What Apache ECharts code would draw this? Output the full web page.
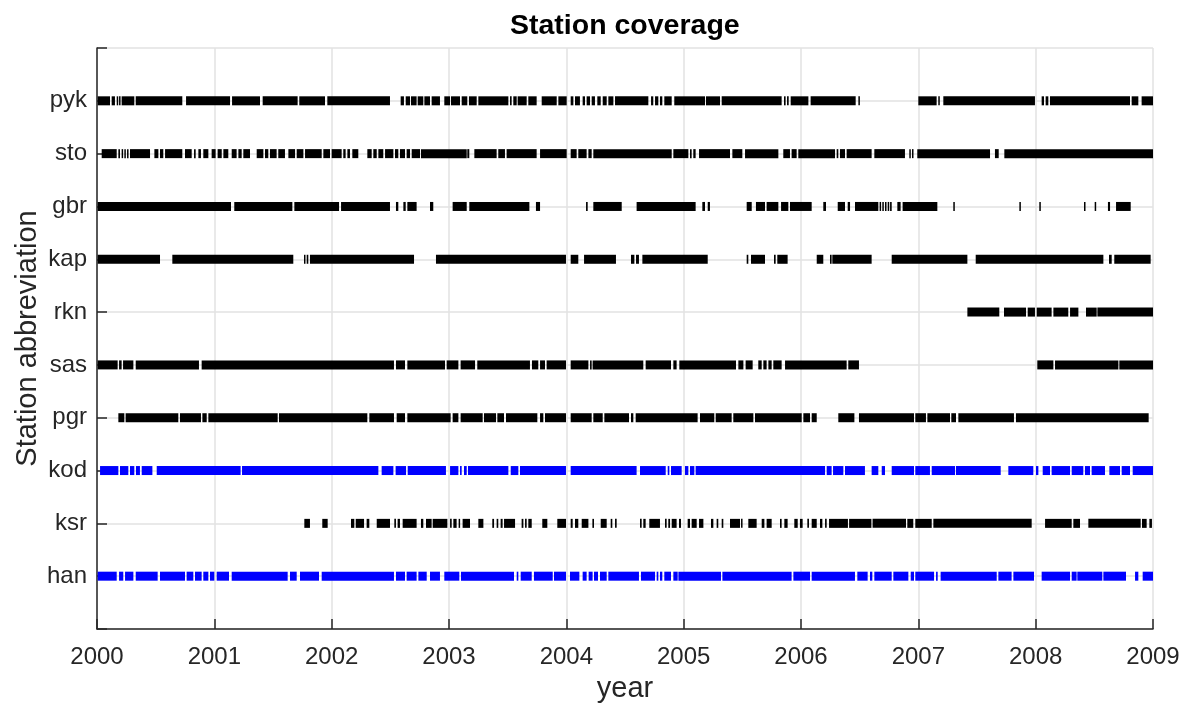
<!DOCTYPE html>
<html>
<head>
<meta charset="utf-8">
<script src="https://cdn.jsdelivr.net/npm/echarts@6/dist/echarts.min.js"></script>
<style>
html,body{margin:0;padding:0;background:#fff;}
#chart{width:1183px;height:704px;}
</style>
</head>
<body>
<div id="chart"></div>
<script>
// Station names, bottom to top
const stations = ['han','ksr','kod','pgr','sas','rkn','kap','gbr','sto','pyk'];
const blueStations = ['han','kod'];
const xTicks = [2000,2001,2002,2003,2004,2005,2006,2007,2008,2009];

// Coverage intervals [start, end] in decimal years
const pyk = [[2000.006,2000.111],[2000.125,2000.153],[2000.168,2000.176],[2000.188,2000.196],[2000.210,2000.318],[2000.330,2000.727],[2000.759,2001.134],[2001.151,2001.389],[2001.412,2001.710],[2001.724,2001.943],[2001.963,2002.497],[2002.588,2002.616],[2002.631,2002.668],[2002.676,2002.724],[2002.733,2002.781],[2002.790,2002.838],[2002.852,2002.923],[2002.960,2003.009],[2003.017,2003.094],[2003.108,2003.156],[2003.170,2003.236],[2003.250,2003.506],[2003.520,2003.534],[2003.548,2003.577],[2003.585,2003.662],[2003.676,2003.747],[2003.790,2003.918],[2003.932,2004.003],[2004.037,2004.060],[2004.074,2004.116],[2004.139,2004.159],[2004.173,2004.202],[2004.216,2004.244],[2004.264,2004.293],[2004.310,2004.344],[2004.358,2004.401],[2004.415,2004.699],[2004.722,2004.741],[2004.756,2004.784],[2004.798,2004.818],[2004.835,2004.898],[2004.920,2005.182],[2005.190,2005.310],[2005.324,2005.835],[2005.855,2005.869],[2005.881,2005.895],[2005.912,2006.063],[2006.082,2006.466],[2006.489,2006.497],[2007.000,2007.156],[2007.170,2007.182],[2007.213,2007.994],[2008.051,2008.071],[2008.085,2008.108],[2008.122,2008.804],[2008.818,2008.875],[2008.903,2009.000]];

const sto = [[2000.040,2000.168],[2000.182,2000.196],[2000.210,2000.222],[2000.233,2000.244],[2000.256,2000.267],[2000.281,2000.452],[2000.489,2000.523],[2000.537,2000.565],[2000.580,2000.727],[2000.750,2000.807],[2000.827,2000.841],[2000.864,2000.886],[2000.906,2000.949],[2000.977,2001.011],[2001.028,2001.063],[2001.077,2001.119],[2001.148,2001.190],[2001.205,2001.233],[2001.247,2001.304],[2001.361,2001.418],[2001.432,2001.460],[2001.474,2001.531],[2001.545,2001.602],[2001.631,2001.688],[2001.702,2001.759],[2001.773,2001.915],[2001.929,2001.986],[2002.000,2002.085],[2002.099,2002.119],[2002.134,2002.156],[2002.176,2002.227],[2002.304,2002.341],[2002.355,2002.384],[2002.398,2002.440],[2002.455,2002.526],[2002.540,2002.568],[2002.582,2002.625],[2002.639,2002.668],[2002.682,2002.753],[2002.761,2003.151],[2003.156,2003.173],[2003.216,2003.406],[2003.420,2003.477],[2003.491,2003.747],[2003.776,2004.003],[2004.037,2004.088],[2004.102,2004.173],[2004.188,2004.216],[2004.230,2004.898],[2004.912,2005.040],[2005.054,2005.068],[2005.082,2005.102],[2005.131,2005.395],[2005.415,2005.500],[2005.523,2005.807],[2005.849,2005.906],[2005.920,2005.963],[2005.977,2006.290],[2006.304,2006.318],[2006.332,2006.375],[2006.389,2006.602],[2006.625,2006.886],[2006.923,2006.935],[2006.946,2006.957],[2006.991,2007.611],[2007.653,2007.685],[2007.733,2009.000]];

const gbr = [[2000.006,2001.142],[2001.170,2001.665],[2001.682,2002.063],[2002.080,2002.497],[2002.548,2002.568],[2002.611,2002.631],[2002.645,2002.724],[2002.838,2002.866],[2003.031,2003.151],[2003.173,2003.685],[2003.741,2003.776],[2004.168,2004.182],[2004.230,2004.472],[2004.599,2005.102],[2005.159,2005.182],[2005.205,2005.224],[2005.537,2005.580],[2005.616,2005.693],[2005.707,2005.807],[2005.830,2005.892],[2005.906,2006.091],[2006.190,2006.213],[2006.313,2006.375],[2006.398,2006.418],[2006.460,2006.659],[2006.670,2006.679],[2006.693,2006.702],[2006.716,2006.724],[2006.739,2006.747],[2006.759,2006.773],[2006.821,2006.849],[2006.866,2007.162],[2007.298,2007.310],[2007.861,2007.872],[2008.031,2008.043],[2008.412,2008.423],[2008.503,2008.514],[2008.616,2008.634],[2008.685,2008.810]];

const kap = [[2000.006,2000.537],[2000.642,2001.673],[2001.764,2001.776],[2001.787,2001.801],[2001.815,2002.702],[2002.889,2003.997],[2004.037,2004.102],[2004.151,2004.423],[2004.551,2004.580],[2004.594,2004.619],[2004.648,2005.205],[2005.537,2005.551],[2005.574,2005.693],[2005.770,2005.784],[2005.798,2005.886],[2006.134,2006.190],[2006.247,2006.261],[2006.267,2006.602],[2006.773,2007.418],[2007.489,2008.577],[2008.625,2008.648],[2008.670,2008.980]];

const rkn = [[2007.418,2007.690],[2007.730,2007.918],[2007.932,2007.994],[2008.009,2008.136],[2008.151,2008.278],[2008.293,2008.364],[2008.429,2008.520],[2008.526,2009.000]];

const sas = [[2000.006,2000.176],[2000.188,2000.210],[2000.222,2000.310],[2000.330,2000.869],[2000.892,2002.531],[2002.548,2002.625],[2002.645,2002.966],[2002.980,2003.080],[2003.099,2003.222],[2003.241,2003.690],[2003.707,2003.761],[2003.776,2003.818],[2003.832,2003.997],[2004.037,2004.188],[2004.202,2004.216],[2004.224,2004.656],[2004.676,2004.892],[2004.912,2004.940],[2004.963,2005.446],[2005.466,2005.509],[2005.528,2005.588],[2005.636,2005.665],[2005.679,2005.707],[2005.722,2005.750],[2005.764,2005.835],[2005.864,2006.389],[2006.403,2006.494],[2008.014,2008.151],[2008.165,2008.705],[2008.713,2009.000]];

const pgr = [[2000.182,2000.233],[2000.244,2000.693],[2000.707,2000.886],[2000.898,2000.935],[2000.949,2001.540],[2001.551,2002.304],[2002.321,2002.531],[2002.554,2002.625],[2002.645,2003.014],[2003.031,2003.080],[2003.099,2003.287],[2003.298,2003.401],[2003.412,2003.469],[2003.486,2003.753],[2003.776,2003.804],[2003.818,2003.997],[2004.037,2004.216],[2004.230,2004.310],[2004.324,2004.534],[2004.551,2004.571],[2004.591,2005.119],[2005.139,2005.261],[2005.273,2005.409],[2005.423,2005.594],[2005.608,2006.006],[2006.020,2006.077],[2006.091,2006.134],[2006.318,2006.455],[2006.494,2006.963],[2006.974,2007.065],[2007.077,2007.270],[2007.281,2007.321],[2007.341,2007.815],[2007.832,2008.963]];

const kod = [[2000.026,2000.182],[2000.196,2000.267],[2000.281,2000.318],[2000.332,2000.366],[2000.381,2000.472],[2000.509,2001.224],[2001.236,2002.398],[2002.426,2002.526],[2002.545,2002.634],[2002.648,2002.974],[2003.009,2003.080],[2003.094,2003.108],[2003.128,2003.151],[2003.162,2003.506],[2003.526,2003.591],[2003.605,2003.997],[2004.037,2004.599],[2004.628,2004.847],[2004.864,2004.878],[2004.892,2004.983],[2005.011,2005.040],[2005.054,2005.091],[2005.102,2006.205],[2006.219,2006.261],[2006.273,2006.361],[2006.375,2006.545],[2006.602,2006.659],[2006.688,2006.716],[2006.773,2006.963],[2006.974,2007.099],[2007.114,2007.313],[2007.321,2007.702],[2007.767,2007.980],[2008.003,2008.023],[2008.060,2008.122],[2008.136,2008.293],[2008.307,2008.406],[2008.420,2008.463],[2008.477,2008.591],[2008.628,2008.719],[2008.733,2008.804],[2008.827,2009.000]];

const ksr = [[2001.767,2001.815],[2001.920,2001.966],[2002.165,2002.193],[2002.205,2002.276],[2002.298,2002.321],[2002.384,2002.497],[2002.534,2002.548],[2002.562,2002.582],[2002.605,2002.724],[2002.761,2002.781],[2002.804,2002.852],[2002.861,2002.986],[2003.009,2003.023],[2003.037,2003.065],[2003.082,2003.094],[2003.116,2003.179],[2003.250,2003.293],[2003.369,2003.384],[2003.406,2003.420],[2003.440,2003.457],[2003.469,2003.563],[2003.619,2003.634],[2003.648,2003.662],[2003.676,2003.705],[2003.795,2003.838],[2003.923,2003.997],[2004.037,2004.054],[2004.074,2004.102],[2004.131,2004.188],[2004.222,2004.236],[2004.293,2004.344],[2004.378,2004.392],[2004.415,2004.429],[2004.628,2004.642],[2004.656,2004.676],[2004.707,2004.798],[2004.841,2004.855],[2004.869,2004.884],[2004.898,2004.940],[2004.960,2004.977],[2005.034,2005.054],[2005.068,2005.111],[2005.131,2005.168],[2005.233,2005.253],[2005.281,2005.295],[2005.324,2005.338],[2005.395,2005.480],[2005.489,2005.500],[2005.551,2005.622],[2005.665,2005.688],[2005.707,2005.750],[2005.821,2005.835],[2005.858,2005.886],[2005.943,2005.972],[2005.991,2006.014],[2006.054,2006.068],[2006.091,2006.134],[2006.162,2006.182],[2006.205,2006.219],[2006.239,2006.400],[2006.410,2006.600],[2006.610,2006.895],[2006.906,2006.957],[2006.974,2007.114],[2007.128,2007.966],[2008.080,2008.307],[2008.321,2008.378],[2008.449,2008.895],[2008.906,2008.946],[2008.969,2008.991]];

const han = [[2000.006,2000.168],[2000.188,2000.224],[2000.239,2000.310],[2000.330,2000.517],[2000.537,2000.750],[2000.764,2000.821],[2000.835,2000.892],[2000.906,2000.949],[2000.963,2001.000],[2001.020,2001.125],[2001.148,2001.625],[2001.645,2001.702],[2001.730,2001.892],[2001.915,2002.531],[2002.548,2002.625],[2002.639,2002.724],[2002.739,2002.810],[2002.838,2002.923],[2002.960,2003.088],[2003.102,2003.554],[2003.577,2003.591],[2003.611,2003.705],[2003.724,2003.884],[2003.895,2003.997],[2004.031,2004.111],[2004.139,2004.173],[2004.190,2004.224],[2004.236,2004.270],[2004.287,2004.344],[2004.358,2004.619],[2004.636,2004.756],[2004.770,2004.784],[2004.798,2004.818],[2004.835,2004.892],[2004.912,2004.949],[2004.955,2005.318],[2005.330,2005.920],[2005.935,2006.077],[2006.091,2006.460],[2006.480,2006.568],[2006.588,2006.608],[2006.625,2006.773],[2006.787,2006.915],[2006.935,2006.963],[2006.974,2007.134],[2007.151,2007.165],[2007.190,2007.668],[2007.682,2007.795],[2007.810,2007.986],[2008.051,2008.293],[2008.307,2008.349],[2008.355,2008.568],[2008.577,2008.770],[2008.847,2008.875],[2008.912,2009.000]];

const coverage = {han, ksr, kod, pgr, sas, rkn, kap, gbr, sto, pyk};

const FONT = "'Liberation Sans', Arial, Helvetica, sans-serif";
const AX = '#262626';
const GRIDC = '#e2e2e2';
const BAR_H = 9;

const series = stations.map(function (name, i) {
  const row = i + 1;
  return {
    type: 'custom',
    name: name,
    coordinateSystem: 'cartesian2d',
    encode: {x: [0, 1], y: 2},
    data: coverage[name].map(function (s) { return [s[0], s[1], row]; }),
    itemStyle: {color: blueStations.indexOf(name) >= 0 ? '#0000ff' : '#000000'},
    renderItem: function (params, api) {
      const p0 = api.coord([api.value(0), api.value(2)]);
      const p1 = api.coord([api.value(1), api.value(2)]);
      let w = p1[0] - p0[0];
      if (w < 1.5) w = 1.5;
      return {
        type: 'rect',
        shape: {x: p0[0], y: p0[1] - BAR_H / 2, width: w, height: BAR_H},
        style: {fill: api.visual('color')}
      };
    },
    silent: true,
    animation: false
  };
});

const chart = echarts.init(document.getElementById('chart'), null, {renderer: 'canvas'});
chart.setOption({
  backgroundColor: '#ffffff',
  animation: false,
  title: {
    text: 'Station coverage',
    left: 510,
    top: 12,
    padding: 0,
    textStyle: {fontFamily: FONT, fontSize: 28.5, fontWeight: 'bold', color: '#000'}
  },
  grid: {left: 97, right: 30, top: 48, bottom: 75, containLabel: false, outerBoundsMode: 'none'},
  xAxis: {
    type: 'value',
    min: xTicks[0],
    max: xTicks[xTicks.length - 1],
    interval: 1,
    name: 'year',
    nameLocation: 'middle',
    nameGap: 45,
    nameMoveOverlap: false,
    nameTextStyle: {fontFamily: FONT, fontSize: 29, color: AX},
    axisLine: {show: true, onZero: false, lineStyle: {color: AX, width: 1.5}},
    axisTick: {show: true, inside: true, length: 10, lineStyle: {color: AX, width: 1.5}},
    axisLabel: {fontFamily: FONT, fontSize: 24, color: AX, margin: 16, formatter: function (v) { return String(v); }},
    splitLine: {show: true, lineStyle: {color: GRIDC, width: 1.5}}
  },
  yAxis: {
    type: 'value',
    min: 0,
    max: stations.length + 1,
    interval: 1,
    name: 'Station abbreviation',
    nameLocation: 'middle',
    nameGap: 55,
    nameMoveOverlap: false,
    nameTextStyle: {fontFamily: FONT, fontSize: 29, color: AX},
    axisLine: {show: true, onZero: false, lineStyle: {color: AX, width: 1.5}},
    axisTick: {show: true, inside: true, length: 10, lineStyle: {color: AX, width: 1.5}},
    axisLabel: {fontFamily: FONT, fontSize: 24, color: AX, margin: 10,
      formatter: function (v) { return (v >= 1 && v <= stations.length) ? stations[v - 1] : ''; }},
    splitLine: {show: true, lineStyle: {color: GRIDC, width: 1.5}}
  },
  series: series
});
</script>
</body>
</html>
